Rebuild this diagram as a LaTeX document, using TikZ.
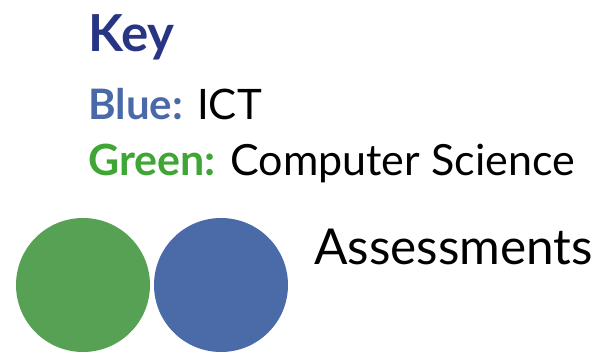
\documentclass[tikz,border=0pt]{standalone}
\usepackage{fontspec}
\setmainfont{Lato}
\definecolor{keyblue}{HTML}{283583}
\definecolor{ictblue}{HTML}{4A69A9}
\definecolor{csgreen}{HTML}{3FA535}
\definecolor{dotgreen}{HTML}{56A153}
\definecolor{dotblue}{HTML}{4A6AA8}

\begin{document}
\begin{tikzpicture}[x=1pt,y=1pt,yscale=-1,xscale=1,
	label/.style={anchor=base west,inner sep=0pt,align=left},
	dot/.style={circle,inner sep=0pt,minimum size=134pt}]

	\useasboundingbox (0,0) rectangle (599,352);

	\node [dot,fill=dotgreen] (greendot) at (83,285) {};
	\node [dot,fill=dotblue] (bluedot) at (221,285) {};

	\node [label,font=\fontsize{51}{60}\selectfont\bfseries,text=keyblue] (key) at (88,52) {Key};
	\node [label,font=\fontsize{42}{50}\selectfont] (ict) at (88,120) {\textcolor{ictblue}{\bfseries Blue:} ICT};
	\node [label,font=\fontsize{43}{50}\selectfont] (cs) at (88,176) {\textcolor{csgreen}{\bfseries Green:} Computer Science};
	\node [label,font=\fontsize{49.5}{60}\selectfont] (assess) at (314,265) {Assessments};

\end{tikzpicture}
\end{document}
